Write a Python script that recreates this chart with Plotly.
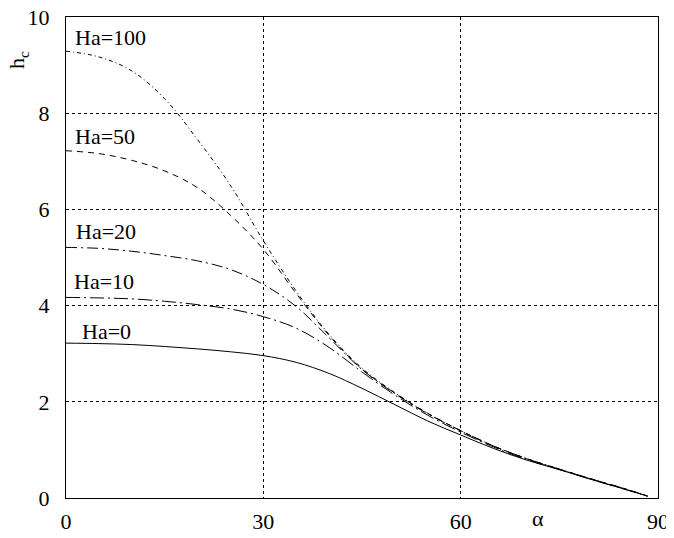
import plotly.graph_objects as go

alpha = [0, 5, 10, 15, 20, 25, 30, 35, 40, 45, 50, 55, 60, 65, 70, 75, 80, 85, 88.4]

h_ha0 = [3.22, 3.21, 3.19, 3.15, 3.10, 3.04, 2.96, 2.82, 2.59, 2.28, 1.94, 1.60, 1.31, 1.03, 0.79, 0.59, 0.38, 0.18, 0.04]
h_ha10 = [4.17, 4.16, 4.14, 4.09, 4.02, 3.93, 3.77, 3.53, 3.13, 2.62, 2.14, 1.72, 1.37, 1.06, 0.80, 0.59, 0.38, 0.18, 0.04]
h_ha20 = [5.21, 5.19, 5.13, 5.04, 4.93, 4.75, 4.44, 3.98, 3.33, 2.67, 2.17, 1.75, 1.40, 1.08, 0.82, 0.60, 0.39, 0.19, 0.04]
h_ha50 = [7.22, 7.16, 7.02, 6.80, 6.45, 5.88, 5.17, 4.25, 3.38, 2.68, 2.18, 1.76, 1.40, 1.08, 0.82, 0.60, 0.39, 0.19, 0.04]
h_ha100 = [9.29, 9.17, 8.88, 8.30, 7.45, 6.50, 5.35, 4.30, 3.40, 2.70, 2.19, 1.76, 1.40, 1.08, 0.82, 0.60, 0.39, 0.19, 0.04]

series = [
    ("Ha=0", h_ha0, "solid"),
    ("Ha=10", h_ha10, "14px,4px,2px,4px"),
    ("Ha=20", h_ha20, "11px,4px,2px,4px"),
    ("Ha=50", h_ha50, "6px,5px"),
    ("Ha=100", h_ha100, "4px,3px,1px,3px"),
]

labels = ["Ha=100", "Ha=50", "Ha=20", "Ha=10", "Ha=0"]
label_x = [1.1, 1.1, 1.2, 0.9, 2.1]
label_y = [9.58, 7.52, 5.54, 4.5, 3.46]

x_ticks = [0, 30, 60, 90]
y_ticks = [0, 2, 4, 6, 8, 10]

FONT = "Liberation Serif"

fig = go.Figure()
for name, ys, dash in series:
    fig.add_trace(go.Scatter(
        x=alpha, y=ys, mode="lines", name=name,
        line=dict(color="black", width=1, dash=dash, shape="spline", smoothing=1.0),
        showlegend=False,
    ))

for t, lx, ly in zip(labels, label_x, label_y):
    fig.add_annotation(x=lx, y=ly, text=t, showarrow=False, xanchor="left", yanchor="middle",
                       font=dict(family=FONT, size=22, color="black"))

fig.add_annotation(x=71.7, y=-0.042, xref="x", yref="paper", text="α", showarrow=False,
                   xanchor="center", yanchor="middle", font=dict(family=FONT, size=22, color="black"))
fig.add_annotation(x=-0.08, y=0.91, xref="paper", yref="paper", text="h<sub>c</sub>", showarrow=False,
                   textangle=-90, xanchor="center", yanchor="middle",
                   font=dict(family=FONT, size=22, color="black"))

axis_common = dict(
    showgrid=True, gridcolor="black", gridwidth=1, griddash="3px,3px",
    showline=True, linecolor="black", linewidth=1, mirror=True,
    ticks="", zeroline=False, automargin=False, ticklabeloverflow="allow",
    tickfont=dict(family=FONT, size=22, color="black"),
)

fig.update_xaxes(range=[0, 90], tickvals=x_ticks, ticktext=[str(v) for v in x_ticks],
                 ticklabelstandoff=4, **axis_common)
fig.update_yaxes(range=[0, 10], tickvals=y_ticks, ticktext=[str(v) for v in y_ticks],
                 ticklabelstandoff=11, **axis_common)

fig.update_layout(
    width=674, height=538,
    margin=dict(l=58, r=24, t=9, b=48, autoexpand=False),
    plot_bgcolor="white", paper_bgcolor="white",
    font=dict(family=FONT, color="black"),
)

fig.write_html("out.html")
